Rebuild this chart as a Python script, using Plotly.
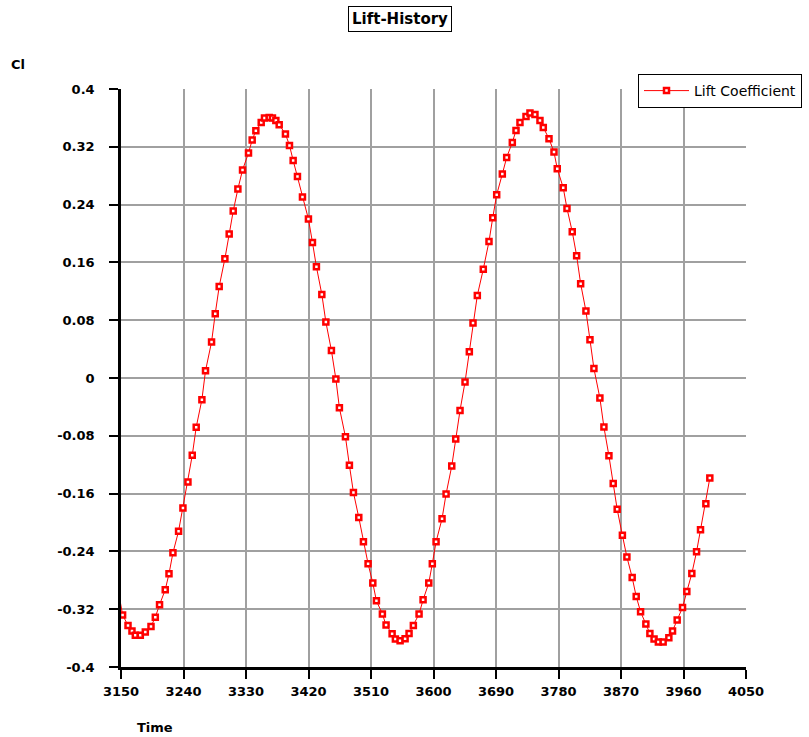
import plotly.graph_objects as go

# Data
time = [3142.8, 3149.0, 3152.3, 3160.1, 3165.8, 3170.6, 3177.8, 3185.0, 3193.2, 3199.4,
        3205.5, 3213.7, 3219.1, 3224.8, 3232.9, 3239.2, 3246.4, 3252.6, 3258.3, 3266.5,
        3271.7, 3280.4, 3285.7, 3291.4, 3299.6, 3305.8, 3311.6, 3318.3, 3325.0, 3333.6,
        3338.9, 3344.2, 3351.9, 3356.6, 3363.4, 3368.1, 3373.0, 3377.8, 3386.8, 3392.6,
        3397.9, 3404.1, 3411.3, 3419.9, 3425.7, 3431.4, 3439.2, 3445.0, 3453.0, 3459.4,
        3464.5, 3473.2, 3478.9, 3484.7, 3492.4, 3499.1, 3505.8, 3512.6, 3517.8, 3526.4,
        3531.7, 3540.4, 3545.1, 3551.9, 3559.1, 3564.8, 3571.0, 3579.2, 3585.0, 3593.2,
        3598.3, 3603.7, 3612.3, 3618.1, 3626.3, 3632.0, 3638.2, 3645.4, 3651.6, 3656.9,
        3663.1, 3671.7, 3679.9, 3685.3, 3691.0, 3699.1, 3705.4, 3713.5, 3718.8, 3724.5,
        3733.2, 3738.9, 3746.1, 3753.3, 3758.1, 3766.3, 3773.5, 3778.2, 3786.8, 3792.2,
        3799.8, 3806.1, 3811.9, 3819.5, 3825.3, 3831.0, 3839.6, 3845.4, 3852.6, 3858.8,
        3864.5, 3872.0, 3878.5, 3886.1, 3891.9, 3898.2, 3905.8, 3911.6, 3917.6, 3923.8,
        3930.7, 3938.9, 3944.2, 3950.9, 3958.6, 3964.8, 3972.0, 3978.8, 3984.5, 3992.2,
        3997.9]

lift_coefficient = [-0.2885, -0.310, -0.328, -0.3425, -0.350, -0.356, -0.356, -0.3517, -0.344, -0.331,
                    -0.314, -0.293, -0.271, -0.242, -0.212, -0.180, -0.144, -0.107, -0.068, -0.030,
                    0.010, 0.0498, 0.089, 0.1267, 0.165, 0.1993, 0.2311, 0.2616, 0.2879, 0.3114,
                    0.3294, 0.3423, 0.3538, 0.3599, 0.3607, 0.3599, 0.3565, 0.3506, 0.3377, 0.3219,
                    0.3012, 0.279, 0.2505, 0.220, 0.1877, 0.154, 0.1157, 0.0775, 0.0381, -0.0014,
                    -0.0412, -0.0813, -0.1208, -0.1584, -0.193, -0.2267, -0.2571, -0.2838, -0.3083, -0.3267,
                    -0.342, -0.354, -0.3614, -0.3637, -0.3609, -0.3536, -0.3425, -0.3267, -0.307, -0.2838,
                    -0.2571, -0.2267, -0.1948, -0.1606, -0.1219, -0.0845, -0.0449, -0.0056, 0.0363, 0.0761,
                    0.1143, 0.1506, 0.189, 0.2218, 0.2537, 0.2823, 0.3053, 0.3261, 0.3427, 0.3538,
                    0.3621, 0.3668, 0.3648, 0.3565, 0.3468, 0.3312, 0.3128, 0.2897, 0.2634, 0.2347,
                    0.2025, 0.1692, 0.1305, 0.0927, 0.053, 0.0132, -0.0277, -0.0679, -0.1076, -0.146,
                    -0.1817, -0.2177, -0.2477, -0.2761, -0.3024, -0.3236, -0.3406, -0.3536, -0.3614, -0.3654,
                    -0.3655, -0.3596, -0.350, -0.335, -0.3176, -0.2955, -0.2706, -0.2405, -0.210, -0.1741,
                    -0.1385]

x_tick_vals = [3150, 3240, 3330, 3420, 3510, 3600, 3690, 3780, 3870, 3960, 4050]
x_tick_text = ["3150", "3240", "3330", "3420", "3510", "3600", "3690", "3780", "3870", "3960", "4050"]
y_tick_vals = [0.4, 0.32, 0.24, 0.16, 0.08, 0, -0.08, -0.16, -0.24, -0.32, -0.4]
y_tick_text = ["0.4", "0.32", "0.24", "0.16", "0.08", "0", "-0.08", "-0.16", "-0.24", "-0.32", "-0.4"]

series_name = "Lift Coefficient"
chart_title = "Lift-History"
x_title = "Time"
y_title = "Cl"

FONT = "DejaVu Sans"

fig = go.Figure()
fig.add_trace(go.Scatter(
    x=time, y=lift_coefficient, name=series_name,
    mode="lines+markers",
    line=dict(color="#ff0000", width=1),
    marker=dict(symbol="square", size=5, color="white",
                line=dict(color="#ff0000", width=2.5)),
    cliponaxis=False,
))

axis_common = dict(
    showgrid=True, gridcolor="#a0a0a0", gridwidth=1.5,
    showline=True, linecolor="black", linewidth=2.5,
    ticks="outside", ticklen=9, tickwidth=1.5, tickcolor="black",
    tickfont=dict(family=FONT, size=13, color="black", weight="bold"),
    zeroline=False, mirror=False,
)

fig.update_xaxes(range=[3150, 4050], tickmode="array", tickvals=x_tick_vals,
                 ticktext=x_tick_text, ticklabelstandoff=2, **axis_common)
fig.update_yaxes(range=[-0.4, 0.4], tickmode="array", tickvals=y_tick_vals,
                 ticktext=y_tick_text, ticklabelstandoff=12, **axis_common)

fig.update_layout(
    width=809, height=737,
    margin=dict(l=121, r=63, t=89, b=70, autoexpand=False),
    paper_bgcolor="white", plot_bgcolor="white",
    showlegend=True,
    legend=dict(xref="container", yref="container",
                x=638 / 809, y=1 - 74 / 737, xanchor="left", yanchor="top",
                bordercolor="black", borderwidth=1, bgcolor="white",
                itemwidth=45,
                font=dict(family=FONT, size=14, color="black")),
    annotations=[
        dict(text=chart_title, xref="paper", yref="paper", x=0.4464, y=1.121,
             xanchor="center", yanchor="middle", showarrow=False,
             font=dict(family=FONT, size=15, color="black", weight="bold"),
             bordercolor="black", borderwidth=1, borderpad=3, bgcolor="white"),
        dict(text=y_title, xref="paper", yref="paper", x=-0.165, y=1.043,
             xanchor="center", yanchor="middle", showarrow=False,
             font=dict(family=FONT, size=13, color="black", weight="bold")),
        dict(text=x_title, xref="paper", yref="paper", x=0.0544, y=-0.104,
             xanchor="center", yanchor="middle", showarrow=False,
             font=dict(family=FONT, size=13, color="black", weight="bold")),
    ],
)

fig.write_html("out.html")
